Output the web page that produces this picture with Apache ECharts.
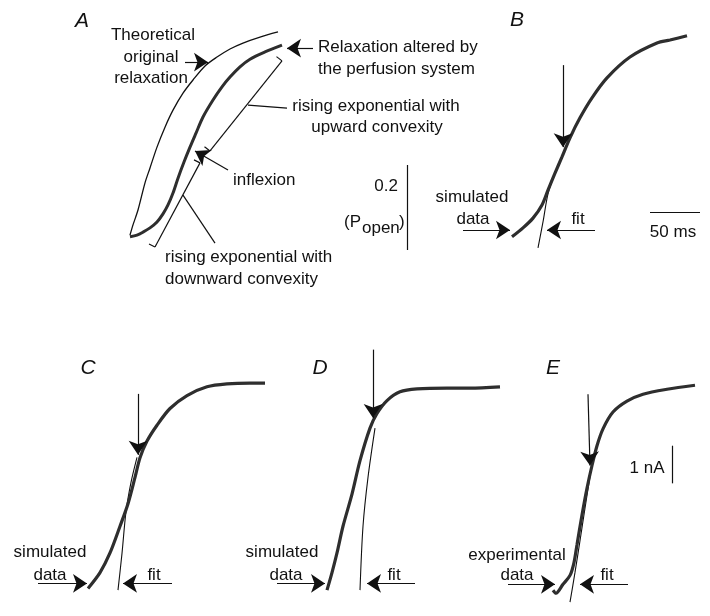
<!DOCTYPE html>
<html>
<head>
<meta charset="utf-8">
<script src="https://cdn.jsdelivr.net/npm/echarts@6/dist/echarts.min.js"></script>
<style>
  html, body { margin: 0; padding: 0; background: #fff; }
  #chart { width: 710px; height: 616px; }
</style>
</head>
<body>
<div id="chart"></div>
<script>
// time in ms, open probability (A-D) or current in nA (E)
const theoryA = [[30,0.035],[33,0.059],[38,0.094],[45,0.158],[50,0.193],[57,0.242],[65,0.289],[73,0.329],[83,0.369],[93,0.400],[105,0.433],[117,0.454],[130,0.473],[143,0.487],[160,0.501],[178,0.513]];
const alteredA = [[30,0.031],[37,0.035],[43,0.042],[50,0.052],[57,0.066],[63,0.085],[68,0.106],[73,0.134],[78,0.169],[84,0.207],[90,0.242],[96,0.275],[103,0.313],[113,0.353],[122,0.384],[130,0.407],[140,0.431],[150,0.449],[165,0.466],[182,0.482]];

const simB = [[12,0.031],[23,0.052],[33,0.075],[42,0.106],[48,0.141],[55,0.181],[62,0.219],[70,0.264],[80,0.311],[92,0.358],[107,0.405],[130,0.454],[157,0.487],[170,0.494],[187,0.504]];
const fitB = [[38,0.005],[43,0.066],[48,0.132],[55,0.181],[62,0.219]];

const simC = [[88,0.016],[100,0.054],[110,0.101],[120,0.165],[128,0.219],[135,0.282],[140,0.329],[147,0.369],[157,0.407],[170,0.447],[187,0.478],[207,0.499],[227,0.506],[250,0.508],[265,0.508]];
const fitC = [[118,0.012],[122,0.100],[126,0.200],[131,0.270],[137,0.330]];

const simD = [[97,0.012],[102,0.054],[107,0.101],[113,0.165],[122,0.242],[130,0.322],[140,0.400],[147,0.435],[157,0.466],[170,0.487],[187,0.494],[217,0.496],[240,0.496],[270,0.499]];
const fitD = [[130,0.012],[133,0.165],[138,0.282],[145,0.400]];

const expE = [[93,0.184],[96,0.105],[103,0.342],[110,0.579],[114,0.921],[117,1.395],[122,2.184],[127,2.895],[132,3.500],[137,4.026],[143,4.474],[153,4.921],[167,5.211],[183,5.395],[207,5.526],[235,5.632]];
const fitE = [[110,-0.132],[115,0.658],[120,1.500],[125,2.368],[130,3.200]];

const FONT = '"Liberation Sans", Arial, sans-serif';
const INK = '#111';
const TRACE = '#2e2e2e';

const chart = echarts.init(document.getElementById('chart'));

// arrow / plain segment for markLine
function arrow(a, b) { return [{ coord: a }, { coord: b }]; }
function seg(a, b) { return [{ coord: a, symbol: 'none' }, { coord: b, symbol: 'none' }]; }

function marks(items) {
  return {
    silent: true,
    animation: false,
    symbol: ['none', 'arrow'],
    symbolSize: 14,
    label: { show: false },
    lineStyle: { color: INK, width: 1.2, type: 'solid' },
    emphasis: { disabled: true },
    data: items
  };
}

function trace(data, gi, width, color, markItems) {
  const s = {
    type: 'line', data: data, xAxisIndex: gi, yAxisIndex: gi,
    showSymbol: false, symbol: 'none', smooth: 0.3, clip: false,
    lineStyle: { color: color, width: width }, silent: true
  };
  if (markItems) s.markLine = marks(markItems);
  return s;
}

function txt(text, x, y, align, extra) {
  return {
    type: 'text', x: x, y: y, silent: true,
    style: Object.assign({
      text: text, fill: INK, fontSize: 17, fontFamily: FONT,
      align: align || 'center', verticalAlign: 'middle'
    }, extra || {})
  };
}
function letter(text, x, y) {
  return txt(text, x, y, 'center', { fontSize: 21, fontStyle: 'italic' });
}

const option = {
  backgroundColor: '#fff',
  animation: false,
  grid: [
    { left: 100, top: 16.25, width: 300, height: 255 },
    { left: 400, top: 16.25, width: 300, height: 255 },
    { left: 0, top: 323.75, width: 300, height: 297.5 },
    { left: 230, top: 323.75, width: 300, height: 297.5 },
    { left: 460, top: 315, width: 250, height: 304 }
  ],
  xAxis: [
    { gridIndex: 0, type: 'value', min: 0, max: 300, show: false },
    { gridIndex: 1, type: 'value', min: -100, max: 200, show: false },
    { gridIndex: 2, type: 'value', min: 0, max: 300, show: false },
    { gridIndex: 3, type: 'value', min: 0, max: 300, show: false },
    { gridIndex: 4, type: 'value', min: 0, max: 250, show: false }
  ],
  yAxis: [
    { gridIndex: 0, type: 'value', min: -0.05, max: 0.55, show: false },
    { gridIndex: 1, type: 'value', min: -0.05, max: 0.55, show: false },
    { gridIndex: 2, type: 'value', min: -0.05, max: 0.65, show: false },
    { gridIndex: 3, type: 'value', min: -0.05, max: 0.65, show: false },
    { gridIndex: 4, type: 'value', min: -0.5, max: 7.5, show: false }
  ],
  series: [
    // A
    trace(theoryA, 0, 1.3, INK, [
      arrow([85, 0.442], [108, 0.442]),
      arrow([213, 0.475], [187, 0.475]),
      seg([176.5, 0.455], [182, 0.445]),
      seg([182, 0.445], [110, 0.233]),
      seg([110, 0.233], [104.5, 0.243]),
      seg([148, 0.341], [187, 0.334]),
      arrow([128, 0.188], [95, 0.233]),
      seg([94, 0.212], [100, 0.205]),
      seg([100, 0.205], [55, 0.007]),
      seg([55, 0.007], [49, 0.014]),
      seg([83, 0.129], [115, 0.016])
    ]),
    trace(alteredA, 0, 3, TRACE),
    // B
    trace(fitB, 1, 1.1, INK, [
      arrow([63, 0.435], [63, 0.242]),
      arrow([-37, 0.047], [10, 0.047]),
      arrow([95, 0.047], [47, 0.047]),
      seg([-93, 0], [-93, 0.2]),
      seg([150, 0.089], [200, 0.089])
    ]),
    trace(simB, 1, 3.2, TRACE),
    // C
    trace(fitC, 2, 1.1, INK, [
      arrow([138, 0.482], [138, 0.336]),
      arrow([38, 0.028], [87, 0.028]),
      arrow([172, 0.028], [123, 0.028])
    ]),
    trace(simC, 2, 3.2, TRACE),
    // D
    trace(fitD, 3, 1.1, INK, [
      arrow([143, 0.588], [143, 0.424]),
      arrow([47, 0.028], [95, 0.028]),
      arrow([185, 0.028], [137, 0.028])
    ]),
    trace(simD, 3, 3.2, TRACE),
    // E
    trace(fitE, 4, 1.1, INK, [
      arrow([128, 5.395], [130, 3.5]),
      arrow([48, 0.342], [95, 0.342]),
      arrow([168, 0.342], [120, 0.342]),
      seg([212, 3.026], [212, 4.026])
    ]),
    trace(expE, 4, 3.2, TRACE)
  ],
  graphic: [
    letter('A', 82, 21),
    letter('B', 517, 20),
    letter('C', 88, 368),
    letter('D', 320, 368),
    letter('E', 553, 368),
    txt('Theoretical', 153, 35),
    txt('original', 151, 57),
    txt('relaxation', 151, 78),
    txt('Relaxation altered by', 318, 47, 'left'),
    txt('the perfusion system', 318, 69, 'left'),
    txt('rising exponential with', 376, 106),
    txt('upward convexity', 377, 127),
    txt('inflexion', 233, 180, 'left'),
    txt('rising exponential with', 165, 257, 'left'),
    txt('downward convexity', 165, 279, 'left'),
    txt('0.2', 398, 186, 'right'),
    txt('(P', 361, 222, 'right'),
    txt('open', 362, 228, 'left'),
    txt(')', 399, 222, 'left'),
    txt('simulated', 472, 197),
    txt('data', 473, 219),
    txt('fit', 578, 219),
    txt('50 ms', 673, 232),
    txt('simulated', 50, 552),
    txt('data', 50, 575),
    txt('fit', 154, 575),
    txt('simulated', 282, 552),
    txt('data', 286, 575),
    txt('fit', 394, 575),
    txt('experimental', 517, 555),
    txt('data', 517, 575),
    txt('fit', 607, 575),
    txt('1 nA', 647, 468)
  ]
};

chart.setOption(option);
window.addEventListener('resize', () => chart.resize());
</script>
</body>
</html>
